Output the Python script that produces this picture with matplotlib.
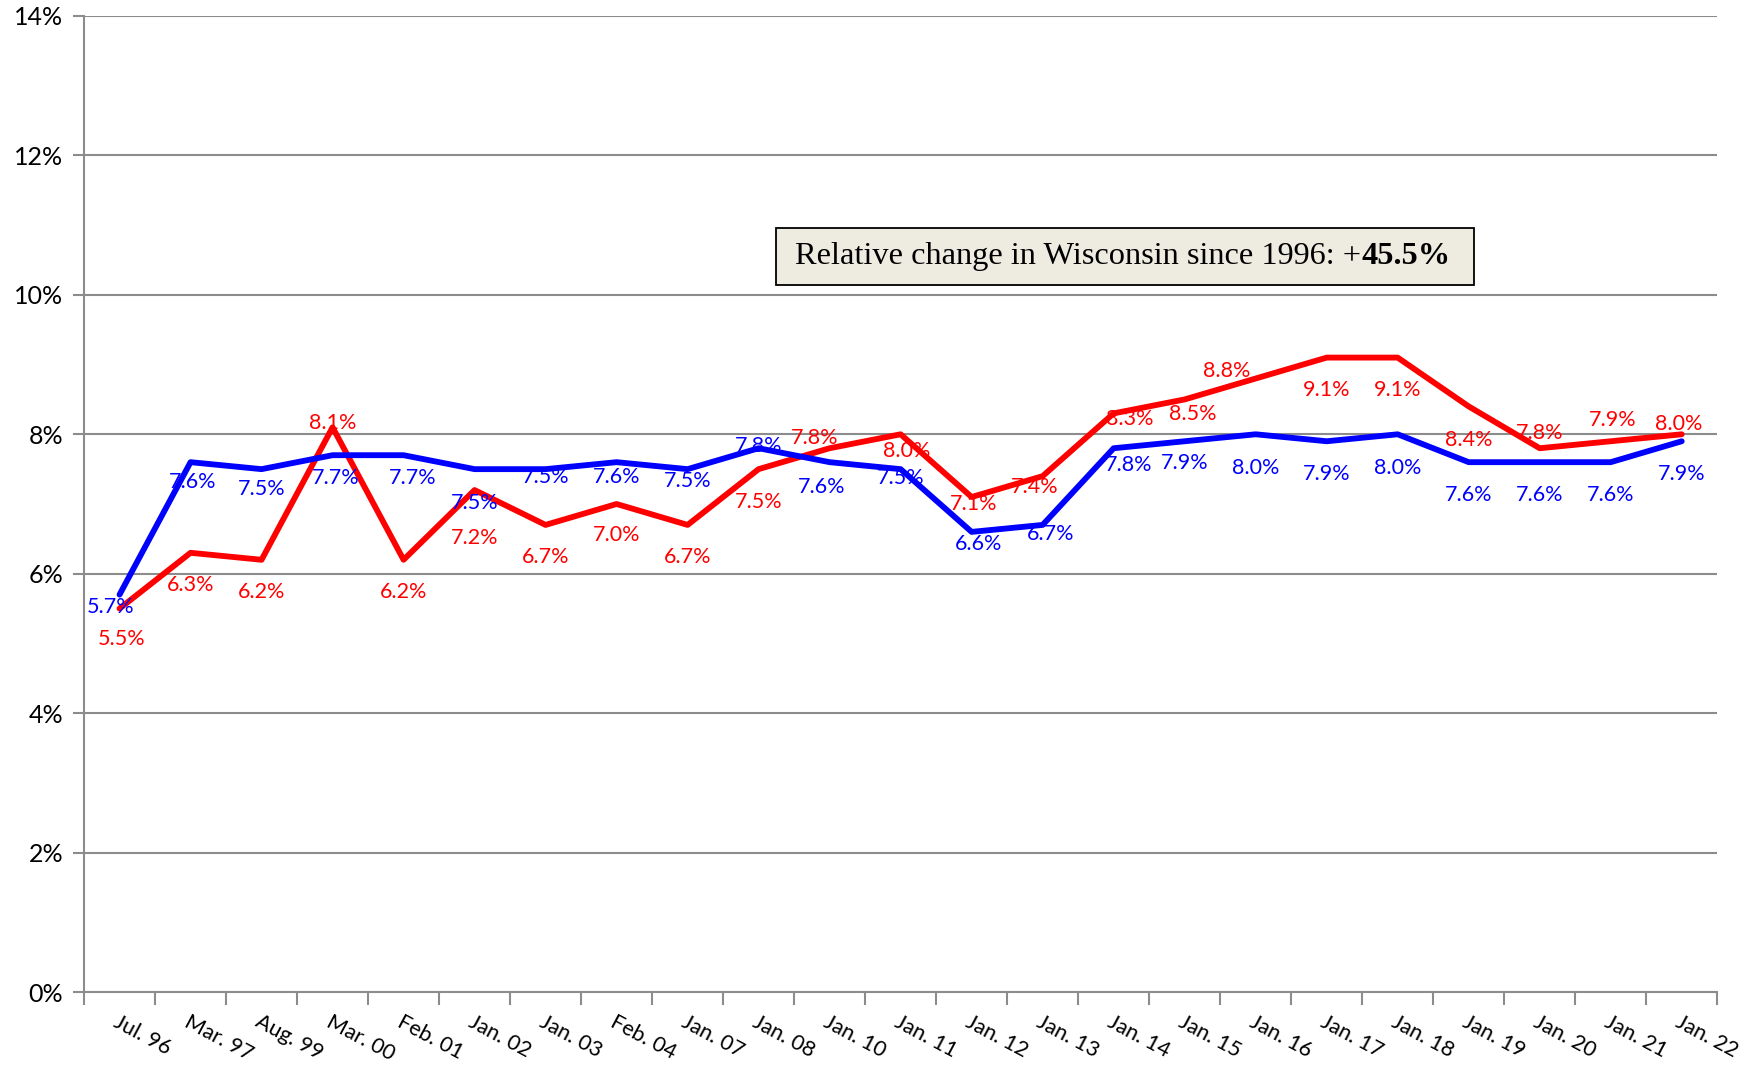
import matplotlib
matplotlib.use("Agg")
import matplotlib.pyplot as plt
from matplotlib.patches import Rectangle
import numpy as np

plt.rcParams['font.family'] = ['Lato', 'DejaVu Sans']

# Category labels and the two series (percent)
dates = ["Jul. 96", "Mar. 97", "Aug. 99", "Mar. 00", "Feb. 01", "Jan. 02", "Jan. 03",
         "Feb. 04", "Jan. 07", "Jan. 08", "Jan. 10", "Jan. 11", "Jan. 12", "Jan. 13",
         "Jan. 14", "Jan. 15", "Jan. 16", "Jan. 17", "Jan. 18", "Jan. 19", "Jan. 20",
         "Jan. 21", "Jan. 22"]
red_vals = [5.5, 6.3, 6.2, 8.1, 6.2, 7.2, 6.7, 7.0, 6.7, 7.5, 7.8, 8.0, 7.1, 7.4,
            8.3, 8.5, 8.8, 9.1, 9.1, 8.4, 7.8, 7.9, 8.0]
blue_vals = [5.7, 7.6, 7.5, 7.7, 7.7, 7.5, 7.5, 7.6, 7.5, 7.8, 7.6, 7.5, 6.6, 6.7,
             7.8, 7.9, 8.0, 7.9, 8.0, 7.6, 7.6, 7.6, 7.9]
box_text = "Relative change in Wisconsin since 1996: +"
box_bold = "45.5%"

# label offsets (pixels, dx, dy downwards positive) to mimic the Excel placement
red_off = [(2, 27), (0, 29), (0, 29), (0, -4), (0, 29), (0, 43), (0, 29), (0, 28),
           (0, 29), (0, 29), (-13, -9), (5, 15), (2, 6), (-7, 10), (14, 5), (7, 13),
           (-26, -7), (0, 29), (0, 29), (0, 30), (0, -14), (2, -19), (-3, -9)]
blue_off = [(-8, 11), (2, 18), (0, 18), (3, 20), (8, 20), (0, 30), (0, 7), (0, 13),
            (0, 11), (0, -2), (-7, 22), (0, 8), (6, 11), (7, 8), (13, 15), (0, 19),
            (0, 30), (0, 29), (0, 30), (0, 29), (0, 29), (0, 29), (0, 29)]

fig = plt.figure(figsize=(17.58, 10.66), dpi=100)
ax = fig.add_axes([0.0478, 0.0694, 0.929, 0.9156])

x = np.arange(len(dates))
ax.plot(x, red_vals, color='#FF0000', lw=4.2, solid_capstyle='round', zorder=3)
ax.plot(x, blue_vals, color='#0000FF', lw=4.2, solid_capstyle='round', zorder=3)

scale = 1.121
for xi, v, (dx, dy) in zip(x, red_vals, red_off):
    ax.annotate(f"{v:.1f}%", (xi, v), xytext=(dx * scale, -dy * scale),
                textcoords='offset pixels', ha='center', va='center',
                color='#FF0000', fontsize=15.5, zorder=4)
for xi, v, (dx, dy) in zip(x, blue_vals, blue_off):
    ax.annotate(f"{v:.1f}%", (xi, v), xytext=(dx * scale, -dy * scale),
                textcoords='offset pixels', ha='center', va='center',
                color='#0000FF', fontsize=15.5, zorder=4)

ax.set_xlim(-0.5, len(dates) - 0.5)
ax.set_ylim(0, 14)
ax.set_yticks(np.arange(0, 15, 2))
ax.set_yticklabels([f"{t}%" for t in range(0, 15, 2)], fontsize=18)
ax.yaxis.grid(True, color='#8C8C8C', lw=1.5)
ax.set_axisbelow(True)

# category boundary ticks on the x axis, labels at category centres
ax.set_xticks(np.arange(-0.5, len(dates), 1.0))
ax.set_xticklabels([])
ax.set_xticks(x, minor=True)
ax.set_xticklabels(dates, minor=True, rotation=-28, ha='left', va='top',
                   rotation_mode='anchor', fontsize=15.5)
ax.tick_params(axis='x', which='minor', length=0, pad=14)
ax.tick_params(axis='x', which='major', length=9, width=1.5, color='#8C8C8C')
ax.tick_params(axis='y', length=8, width=1.5, color='#8C8C8C', pad=7)

for s in ['top', 'right']:
    ax.spines[s].set_visible(False)
for s in ['left', 'bottom']:
    ax.spines[s].set_color('#8C8C8C')
    ax.spines[s].set_linewidth(1.5)

# annotation box with a regular and a bold part
ax.add_patch(Rectangle((0.4238, 0.7245), 0.4272, 0.0585, transform=ax.transAxes,
                       facecolor='#EEECE1', edgecolor='black', lw=1.3, zorder=5))
t1 = ax.text(0.4354, 0.7538, box_text, transform=ax.transAxes, ha='left', va='center',
             fontsize=23.3, family='Liberation Serif', zorder=6)
ax.annotate(box_bold, xy=(1, 0.5), xycoords=t1, ha='left', va='center',
            fontsize=23.3, family='Liberation Serif', fontweight='bold', zorder=6)

fig.savefig("out.png", dpi=100)
